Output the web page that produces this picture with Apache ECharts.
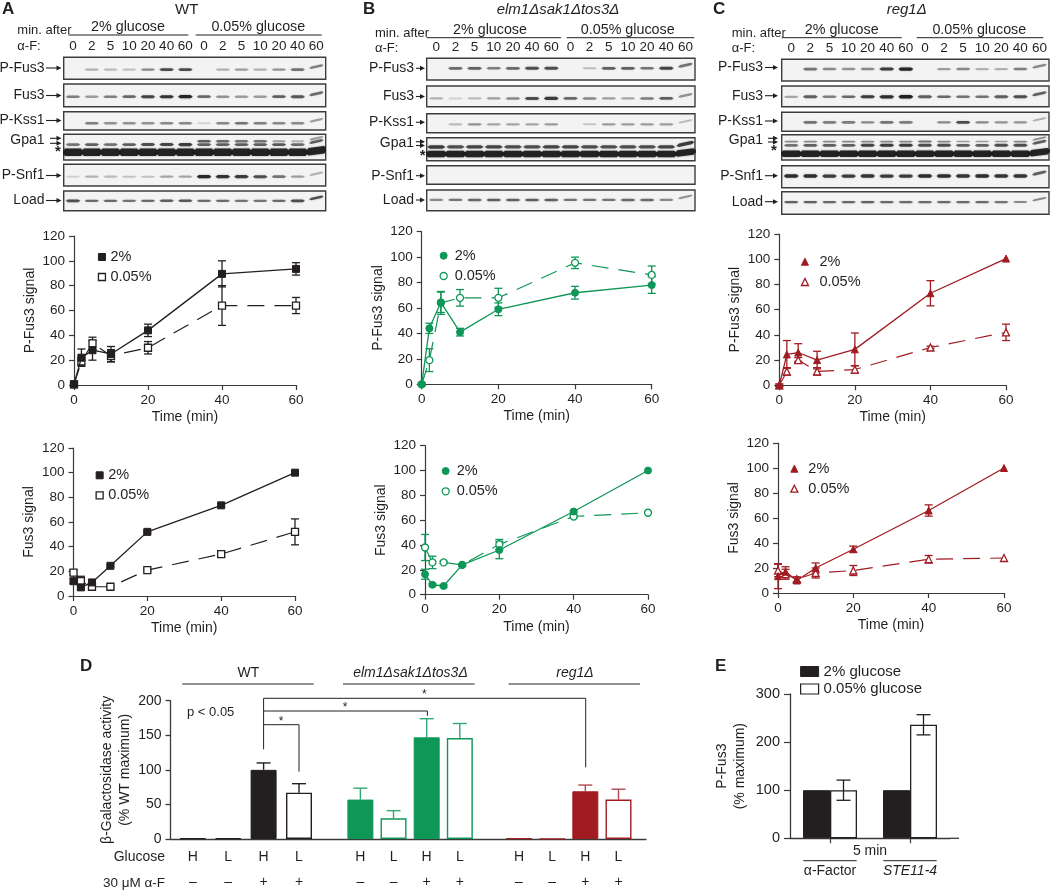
<!DOCTYPE html>
<html><head><meta charset="utf-8">
<style>html,body{margin:0;padding:0;background:#fff}#c{width:1050px;height:891px}</style>
<script src="https://cdn.jsdelivr.net/npm/echarts@6/dist/echarts.min.js"></script>
</head><body><div id="c"></div>
<script>
// ---------- DATA ----------
const times = [0, 2, 5, 10, 20, 40, 60];
const lanes = ['0','2','5','10','20','40','60','0 ','2 ','5 ','10 ','20 ','40 ','60 '];

const aPF2 = [0.5, 22, 28, 25, 44, 89.5, 93.5];      const aPF2e = [1.5, 7, 8, 6, 5, 10.5, 5];
const aPF5 = [0.5, 19, 33.5, 23.5, 30, 64, 64];      const aPF5e = [1.5, 3, 5, 5, 5, 16, 6.5];
const aF2  = [12, 7, 11, 24.5, 52, 73.5, 100];       const aF2e  = [2, 2, 2, 1, 1, 1, 0];
const aF5  = [19, 12, 7.5, 7.5, 21, 34, 52];         const aF5e  = [2, 4, 1, 1, 1, 2, 10.5];
const bPF2 = [0, 44, 64.5, 41, 59, 72, 78];          const bPF2e = [1, 4, 8, 3, 5, 5, 6.5];
const bPF5 = [0, 19, 64, 68, 68, 95.5, 86];          const bPF5e = [1, 9, 9, 6.5, 7.5, 4.5, 7];
const bF2  = [16.5, 8, 7, 24, 36, 67, 100];          const bF2e  = [4, 1, 1, 1, 7, 1, 0];
const bF5  = [38, 26, 26, 24, 40.5, 63, 66];         const bF5e  = [10.5, 5, 1, 1, 4, 1, 0];
const cPF2 = [0, 24.5, 26, 20, 28.5, 73, 100.5];     const cPF2e = [1, 11, 7, 7, 13, 10, 0];
const cPF5 = [0, 11, 20, 11, 12.5, 30, 42];          const cPF5e = [1, 3, 2, 3, 3, 1, 6.5];
const cF2  = [13.5, 17, 10, 20, 35, 66, 100];        const cF2e  = [10, 4, 2, 4, 2.5, 4.5, 0];
const cF5  = [18, 15, 11, 16, 18, 27, 28];           const cF5e  = [5, 4, 2, 4, 4, 3, 0];

const dGlucose = ['H','L','H','L'];
const dAlpha = ['–','–','+','+'];
const dWT  = [1, 1, 100, 67];     const dWTe  = [0, 0, 10, 13];
const dElm = [57, 30, 147, 146];  const dElme = [16.5, 11, 27, 21];
const dReg = [1, 0.5, 69, 57];    const dRege = [0, 0, 9, 15];

const eCats = ['α-Factor', 'STE11-4'];
const e2  = [100, 100];
const e5  = [100, 236];  const e5e = [21, 21];

// blot band intensities, one per lane
const A_PFus3 = [0,.2,.15,.12,.4,.7,.7,0,.2,.3,.2,.35,.5,.45];
const A_Fus3  = [.45,.3,.45,.55,.75,.85,.95,.55,.35,.3,.3,.6,.65,.55];
const A_PKss1 = [0,.45,.35,.35,.35,.4,.4,.03,.4,.5,.45,.4,.4,.3];
const A_GpaU  = [0,0,0,0,0,0,0,.6,.55,.5,.5,.3,.2,.3];
const A_GpaM  = [.5,.6,.5,.6,.7,.75,.8,.6,.6,.6,.6,.65,.55,.6];
const A_GpaD  = [1,1,1,1,1,1,1,1,1,1,1,1,1,1];
const A_PSnf1 = [.05,.2,.15,.12,.12,.25,.25,.95,.85,.8,.7,.5,.3,.2];
const A_Load  = [.7,.55,.55,.5,.55,.6,.65,.55,.55,.5,.5,.55,.7,.7];

const B_PFus3 = [0,.55,.6,.45,.55,.7,.7,0,.15,.6,.6,.5,.75,.5];
const B_Fus3  = [.2,.05,.15,.3,.4,.7,.8,.55,.4,.3,.25,.45,.6,.35];
const B_PKss1 = [0,.15,.35,.25,.25,.25,.3,0,.1,.3,.3,.3,.3,.15];
const B_GpaM  = [.8,.7,.75,.75,.7,.7,.75,.75,.7,.7,.7,.7,.75,.8];
const B_GpaD  = [1,1,1,1,1,1,1,1,1,1,1,1,1,1];
const B_PSnf1 = [0,0,0,0,0,0,0,0,0,0,0,0,0,0];
const B_Load  = [.4,.5,.55,.6,.6,.6,.6,.5,.5,.5,.55,.55,.4,.35];

const C_PFus3 = [0,.5,.4,.35,.4,.8,.95,0,.3,.4,.2,.2,.45,.4];
const C_Fus3  = [.25,.6,.45,.55,.8,.9,1,.6,.55,.5,.5,.6,.7,.6];
const C_PKss1 = [0,.5,.45,.45,.4,.5,.45,0,.4,.7,.4,.35,.35,.2];
const C_GpaU  = [.4,.4,.4,.4,.4,.4,.4,.5,.4,.3,.3,.3,.4,.4];
const C_GpaM  = [.5,.6,.6,.6,.75,.8,.8,.7,.7,.6,.6,.7,.7,.6];
const C_GpaD  = [1,1,1,1,1,1,1,1,1,1,1,1,1,1];
const C_PSnf1 = [.9,.9,.8,.8,.85,.8,.8,.9,.9,.85,.9,.85,.85,.6];
const C_Load  = [.6,.6,.55,.55,.6,.55,.55,.55,.55,.55,.55,.5,.4,.4];

// ---------- STYLE / LAYOUT ----------
const FF = '"Liberation Sans", Arial, sans-serif';
const INK = '#231f20', GREEN = '#0f9757', RED = '#a01c22', AXIS = '#3a3a3a';
const grid = [], xAxis = [], yAxis = [], series = [], legend = [], graphic = [];
function addGrid(g){ g.outerBoundsMode='none'; g.containLabel=false; grid.push(g); }

function txt(x, y, text, o) {
  o = o || {};
  graphic.push({type:'text', silent:true, rotation:o.rot||0, x:x, y:y, style:{x:0,y:0,text:text,
    font:(o.italic?'italic ':'')+(o.bold?'bold ':'')+(o.size||14)+'px '+FF,
    fill:o.color||INK, textAlign:o.align||'left', textVerticalAlign:'middle'}});
}
function seg(x1,y1,x2,y2,c,w){
  graphic.push({type:'line',silent:true,shape:{x1,y1,x2,y2},style:{stroke:c||INK,lineWidth:w||1}});
}
function arrow(x1,x2,y){
  seg(x1,y,x2-3,y,INK,1.1);
  graphic.push({type:'polygon',silent:true,shape:{points:[[x2,y],[x2-5,y-2.5],[x2-5,y+2.5]]},style:{fill:INK}});
}

function blot(box, row, bandDefs, showLanes) {
  const gi = grid.length;
  addGrid({left:box[0], width:box[1]-box[0], top:row[0], height:row[1]-row[0], show:true,
    backgroundColor:'#f3f3f3', borderColor:'#3c3c3c', borderWidth:1.4});
  xAxis.push({type:'category', gridIndex:gi, data:lanes, position:'top',
    axisLine:{show:false}, axisTick:{show:false},
    axisLabel:{show:!!showLanes, interval:0, margin:4, fontFamily:FF, fontSize:13.5, color:INK,
      formatter:v=>v.trim()}});
  yAxis.push({type:'value', gridIndex:gi, min:0, max:1, inverse:true, show:false, splitLine:{show:false}});
  bandDefs.forEach(b=>{
    series.push({type:'custom', xAxisIndex:gi, yAxisIndex:gi, silent:true, clip:true,
      data:b.v.map((v,i)=>[i,b.y,v]),
      renderItem:(p,api)=>{
        const v=api.value(2); if(v<=0) return null;
        const i=api.value(0), c=api.coord([i,api.value(1)]), w=api.size([1,0])[0]*b.w/2;
        const h=b.h*(b.solid?1:(.55+.45*v))/2, tilt=i===13?(b.solid?0.12:0.22):0, dy=i===13?(b.solid?-1.5:-3):0;
        const P=(dx,yy)=>[c[0]+dx, c[1]+yy+dy-dx*tilt];
        return {type:'polygon', shape:{points:[P(-w,0),P(-w*.7,-h),P(w*.7,-h),P(w,0),P(w*.7,h),P(-w*.7,h)]},
          style:{fill:'rgba(28,28,30,'+(b.solid?.95:(.12+.85*v))+')',
                 shadowBlur:2, shadowColor:'rgba(28,28,30,'+(.5*v)+')'}};
      }});
  });
}

function errSeries(gi, xs, val, err, color, capHalf, opts) {
  opts=opts||{};
  series.push({type:'custom', xAxisIndex:gi, yAxisIndex:gi, silent:true, clip:false, z:opts.z||3,
    data:xs.map((x,i)=>[x,val[i]-err[i],val[i]+err[i],val[i]]),
    renderItem:(p,api)=>{
      if(api.value(2)-api.value(1)<=0) return null;
      const off=opts.offset||0, x=api.coord([api.value(0),0])[0]+off;
      const yh=api.coord([api.value(0),api.value(2)])[1];
      const yl=api.coord([api.value(0),opts.upperOnly?api.value(3):api.value(1)])[1];
      const st={stroke:color,lineWidth:opts.lw||1.3};
      const ch=[{type:'line',shape:{x1:x,y1:yl,x2:x,y2:yh},style:st},
                {type:'line',shape:{x1:x-capHalf,y1:yh,x2:x+capHalf,y2:yh},style:st}];
      if(!opts.upperOnly) ch.push({type:'line',shape:{x1:x-capHalf,y1:yl,x2:x+capHalf,y2:yl},style:st});
      return {type:'group',children:ch};
    }});
}

function linePlot(b, yName, s2, s2e, s5, s5e, color, sym, symSize, leg) {
  const gi=grid.length;
  addGrid({left:b[0], width:b[1]-b[0], top:b[2], height:b[3]-b[2]});
  const lab={fontFamily:FF,fontSize:13.5,color:INK};
  const ax={axisLine:{show:true,onZero:false,lineStyle:{color:AXIS,width:1.2}},axisTick:{show:true,length:5,lineStyle:{color:AXIS,width:1.2}},splitLine:{show:false}};
  xAxis.push(Object.assign({type:'value',gridIndex:gi,min:0,max:60,interval:20,name:'Time (min)',nameLocation:'middle',nameGap:25,
    nameTextStyle:{fontFamily:FF,fontSize:14,color:INK},axisLabel:Object.assign({margin:8},lab)},ax));
  yAxis.push(Object.assign({type:'value',gridIndex:gi,min:0,max:120,interval:20,name:yName,nameLocation:'middle',nameGap:37,
    nameTextStyle:{fontFamily:FF,fontSize:14,color:INK},axisLabel:Object.assign({margin:9},lab)},ax));
  errSeries(gi,times,s5,s5e,color,4,{z:3});
  errSeries(gi,times,s2,s2e,color,4,{z:3});
  series.push({type:'line',name:'0.05%',xAxisIndex:gi,yAxisIndex:gi,data:times.map((t,i)=>[t,s5[i]]),clip:false,
    symbol:sym,symbolSize:symSize,showAllSymbol:true,z:4,
    lineStyle:{color:color,width:1.2,type:[17,10]},
    itemStyle:{color:'#fff',borderColor:color,borderWidth:1.3}});
  series.push({type:'line',name:'2%',xAxisIndex:gi,yAxisIndex:gi,data:times.map((t,i)=>[t,s2[i]]),clip:false,
    symbol:sym,symbolSize:symSize,showAllSymbol:true,z:5,
    lineStyle:{color:color,width:1.3},
    itemStyle:{color:color,borderColor:color,borderWidth:1}});
  legend.push({left:leg[0]-symSize/2, top:leg[1]-8, orient:'vertical', selectedMode:false, itemGap:leg[2]-14,
    itemWidth:symSize, itemHeight:symSize, padding:0, silent:true,
    textStyle:{fontFamily:FF,fontSize:14.5,color:INK,lineHeight:16,padding:[0,0,0,leg[3]]},
    data:[{name:'2%',icon:sym,itemStyle:{color:color,borderColor:color,borderWidth:1}},
          {name:'0.05%',icon:sym,itemStyle:{color:'#fff',borderColor:color,borderWidth:1.3}}]});
}

// ---------- WESTERN BLOTS ----------
function panelBlots(box, rows, defs) {
  defs.forEach((d,i)=>blot(box, rows[i], d, i===0));
}
const band=(y,v,h,w,solid)=>({y,v,h:h||3.4,w:w||.78,solid:!!solid});
panelBlots([63.7,325.7],
  [[57.3,79.3],[84,106.7],[111.7,130],[134.3,160],[164.3,186],[191,210.7]],
  [[band(.56,A_PFus3)],[band(.56,A_Fus3)],[band(.63,A_PKss1)],
   [band(.27,A_GpaU,3),band(.40,A_GpaM,3.4),band(.70,A_GpaD,7.5,1.2,true)],
   [band(.57,A_PSnf1)],[band(.5,A_Load,3)]]);
panelBlots([426.7,695],
  [[58.3,80],[86,106.7],[113.7,132.7],[137.7,160.7],[165.7,184.3],[190,210.7]],
  [[band(.46,B_PFus3)],[band(.6,B_Fus3)],[band(.56,B_PKss1)],
   [band(.40,B_GpaM,3.8,.95),band(.71,B_GpaD,6.5,1.2,true)],
   [band(.5,B_PSnf1)],[band(.48,B_Load,3)]]);
panelBlots([781.7,1049],
  [[59.3,81],[86,106.7],[112.3,131.3],[134.7,160],[165.7,187.7],[191.7,214.3]],
  [[band(.45,C_PFus3)],[band(.52,C_Fus3)],[band(.53,C_PKss1)],
   [band(.27,C_GpaU,2.4),band(.42,C_GpaM,3.4),band(.75,C_GpaD,6.5,1.2,true)],
   [band(.47,C_PSnf1,3.6)],[band(.46,C_Load,2.8)]]);

// blot row labels, arrows and headers
function blotLabels(rowY, textR, a1, a2, gpaY, gpaA, star) {
  const names=['P-Fus3','Fus3','P-Kss1','Gpa1','P-Snf1','Load'];
  names.forEach((n,i)=>{
    txt(textR,rowY[i],n,{align:'right',size:14});
    if(i!==3) arrow(a1,a2,rowY[i]);
  });
  gpaY.forEach(y=>arrow(gpaA,a2,y));
  txt(star[0],star[1],'*',{size:15,bold:true,align:'center'});
}
blotLabels([68,95.5,120.5,140,175.5,200.5],44.5,46,61.5,[138.3,143.3],50,[58,152]);
blotLabels([68.3,96.5,122.3,143,175.7,200],414,416,425,[141.7,145.5],416,[422.7,156]);
blotLabels([67.5,95.7,121,140,175.7,201.7],763,765,778,[138.3,142],768,[774,151]);

function header(letterX,title,titleX,italic,minX,minY,l1,c1,l2,c2,lineY,titleGlu,alphaY){
  txt(letterX,9,title[0],{bold:true,size:17});
  txt(titleX,10,title[1],{align:'center',size:15,italic:italic});
  txt(minX,minY,'min. after',{size:13});
  txt(minX,alphaY,'α-F:',{size:13});
  seg(l1[0],lineY,l1[1],lineY,INK,1); seg(l2[0],lineY,l2[1],lineY,INK,1);
  txt(c1,titleGlu,'2% glucose',{align:'center',size:14.3});
  txt(c2,titleGlu,'0.05% glucose',{align:'center',size:14.3});
}
header(2,['A','WT'],186.7,false,17.3,30.7,[68.3,188.3],128,[195.7,321.7],258.3,35,27,46);
header(363,['B','elm1Δsak1Δtos3Δ'],558,true,375,33.3,[426.7,561],490,[566.7,694.3],627.7,37.7,30,48);
header(713,['C','reg1Δ'],906.7,true,731.7,33,[781.7,901.7],841.7,[916.7,1043.3],979.3,37.7,30,48);

// ---------- TIME COURSES ----------
linePlot([74,296,236,385],'P-Fus3 signal',aPF2,aPF2e,aPF5,aPF5e,INK,'rect',7,[101.3,257,18,0]);
linePlot([73.5,295,448,596],'Fus3 signal',aF2,aF2e,aF5,aF5e,INK,'rect',7,[99,475.3,18,0]);
linePlot([421.7,651.7,231.7,384.3],'P-Fus3 signal',bPF2,bPF2e,bPF5,bPF5e,GREEN,'circle',7,[443,255.7,18.3,2.5]);
linePlot([425,648,445.7,594.7],'Fus3 signal',bF2,bF2e,bF5,bF5e,GREEN,'circle',7,[445,471,18.3,2.5]);
linePlot([779.3,1006,234,385.3],'P-Fus3 signal',cPF2,cPF2e,cPF5,cPF5e,RED,'triangle',7,[804.3,261.7,18.3,6]);
linePlot([778,1004,443,593],'Fus3 signal',cF2,cF2e,cF5,cF5e,RED,'triangle',7,[793.7,468.7,18,5.5]);

// ---------- PANEL D ----------
const dTop=700.7, dBottom=839;
(function(){
  const gi=grid.length;
  addGrid({left:170.5,width:475.5,top:dTop,height:dBottom-dTop});
  xAxis.push({type:'category',gridIndex:gi,data:[''],axisLabel:{show:false},axisTick:{show:false},
    axisLine:{show:true,lineStyle:{color:AXIS,width:1.3}}});
  yAxis.push({type:'value',gridIndex:gi,min:0,max:200,interval:50,name:'β-Galactosidase activity\n(% WT maximum)',
    nameLocation:'middle',nameGap:35,nameTextStyle:{fontFamily:FF,fontSize:14,color:INK,lineHeight:18},
    axisLine:{show:true,lineStyle:{color:AXIS,width:1.3}},axisTick:{show:true,length:5,lineStyle:{color:AXIS,width:1.3}},splitLine:{show:false},
    axisLabel:{margin:9,fontFamily:FF,fontSize:14,color:INK}});
})();
function dGroup(left,width,vals,errs,color,errColor){
  const gi=grid.length;
  addGrid({left,width,top:dTop,height:dBottom-dTop});
  xAxis.push({type:'category',gridIndex:gi,data:dGlucose.map((g,i)=>i+'|'+g+'\n'+dAlpha[i]),
    axisLine:{show:false},axisTick:{show:false},
    axisLabel:{interval:0,margin:6,fontFamily:FF,fontSize:14,color:INK,lineHeight:25,formatter:v=>v.split('|')[1]}});
  yAxis.push({type:'value',gridIndex:gi,min:0,max:200,interval:50,show:false,splitLine:{show:false}});
  series.push({type:'bar',xAxisIndex:gi,yAxisIndex:gi,barWidth:26,silent:true,z:2,
    data:vals.map((v,i)=>({value:v,itemStyle: i%2===0
      ? {color:color,borderColor:color,borderWidth:1}
      : {color:'#fff',borderColor:color,borderWidth:1.4}}))});
  errSeries(gi,[0,1,2,3],vals,errs,errColor,7,{upperOnly:true,lw:1.4,z:1});
}
dGroup(175.1,141.6,dWT,dWTe,INK,INK);
dGroup(343.8,132.6,dElm,dElme,GREEN,'#2fa874');
dGroup(502.4,132.7,dReg,dRege,RED,'#ad4a4e');

txt(80,666,'D',{bold:true,size:17});
txt(248.4,673,'WT',{align:'center',size:14});
txt(410.5,673,'elm1Δsak1Δtos3Δ',{align:'center',size:14,italic:true});
txt(575,673,'reg1Δ',{align:'center',size:14,italic:true});
seg(182.3,684,313.7,684); seg(343,684,474.5,684); seg(508.6,684,640,684);
txt(187,712,'p < 0.05',{size:13});
txt(165,857,'Glucose',{align:'right',size:14});
txt(165,883,'30 μM α-F',{align:'right',size:13.5});
// significance brackets
graphic.push({type:'polyline',silent:true,shape:{points:[[263.6,749.3],[263.6,698.3],[585.7,698.3],[585.7,767.3]]},style:{stroke:INK,fill:'none',lineWidth:1}});
graphic.push({type:'polyline',silent:true,shape:{points:[[263.6,711],[427.4,711],[427.4,715.7]]},style:{stroke:INK,fill:'none',lineWidth:1}});
graphic.push({type:'polyline',silent:true,shape:{points:[[263.6,724.7],[299,724.7],[299,771.7]]},style:{stroke:INK,fill:'none',lineWidth:1}});
txt(424.4,695,'*',{align:'center',size:12});
txt(345,708,'*',{align:'center',size:12});
txt(281,722,'*',{align:'center',size:12});

// ---------- PANEL E ----------
(function(){
  const gi=grid.length;
  addGrid({left:790,width:160,top:694,height:838.3-694});
  xAxis.push({type:'category',gridIndex:gi,data:eCats,
    axisLine:{show:true,lineStyle:{color:AXIS,width:1.3}},axisTick:{show:true,alignWithLabel:true,interval:0,length:5,lineStyle:{color:AXIS,width:1.2}},
    axisLabel:{interval:0,hideOverlap:false,margin:26,fontFamily:FF,fontSize:14,color:INK,
      formatter:v=>v==='STE11-4'?'{i|'+v+'}':v,rich:{i:{fontStyle:'italic',fontFamily:FF,fontSize:14,color:INK}}}});
  yAxis.push({type:'value',gridIndex:gi,min:0,max:300,interval:100,name:'P-Fus3\n(% maximum)',nameLocation:'middle',nameGap:41,
    nameTextStyle:{fontFamily:FF,fontSize:14,color:INK,lineHeight:18},
    axisLine:{show:true,lineStyle:{color:AXIS,width:1.3}},axisTick:{show:true,length:6,lineStyle:{color:AXIS,width:1.2}},splitLine:{show:false},
    axisLabel:{margin:10,fontFamily:FF,fontSize:14.5,color:INK}});
  series.push({type:'bar',name:'2% glucose',xAxisIndex:gi,yAxisIndex:gi,data:e2,barWidth:27,barGap:0,silent:true,
    itemStyle:{color:INK,borderColor:INK,borderWidth:1}});
  series.push({type:'bar',name:'0.05% glucose',xAxisIndex:gi,yAxisIndex:gi,data:e5,barWidth:27,barGap:0,silent:true,
    itemStyle:{color:'#fff',borderColor:INK,borderWidth:1.3}});
  errSeries(gi,[0,1],e5,e5e,INK,7,{offset:13.5,lw:1.3,z:4});
  legend.push({left:800,top:664,orient:'vertical',selectedMode:false,itemWidth:18,itemHeight:10,itemGap:2.5,padding:0,
    textStyle:{fontFamily:FF,fontSize:15,color:INK,lineHeight:14},
    data:[{name:'2% glucose',icon:'rect',itemStyle:{color:INK,borderColor:INK,borderWidth:1}},
          {name:'0.05% glucose',icon:'rect',itemStyle:{color:'#fff',borderColor:INK,borderWidth:1.2}}]});
})();
seg(950,838.3,959,838.3,AXIS,1.3);
txt(715,666,'E',{bold:true,size:17});
txt(870,851,'5 min',{align:'center',size:14});
seg(803.3,860.7,856.7,860.7); seg(883.3,860.7,936.7,860.7);

const chart=echarts.init(document.getElementById('c'));
chart.setOption({animation:false,backgroundColor:'#fff',textStyle:{fontFamily:FF},
  grid,xAxis,yAxis,series,legend,graphic:{elements:graphic}});
</script></body></html>
